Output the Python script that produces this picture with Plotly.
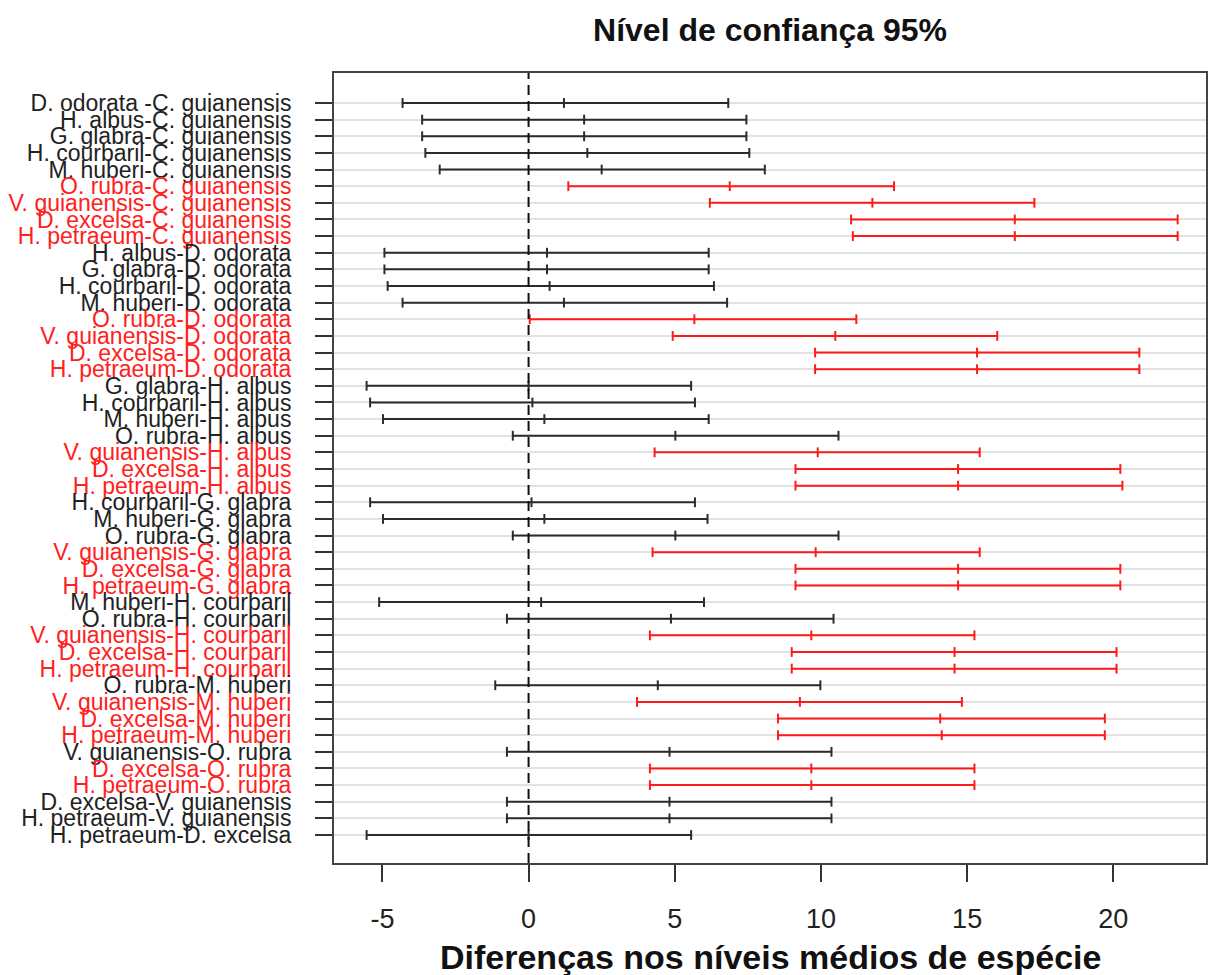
import plotly.graph_objects as go

comparisons = [
    "D. odorata -C. guianensis", "H. albus-C. guianensis", "G. glabra-C. guianensis",
    "H. courbaril-C. guianensis", "M. huberi-C. guianensis", "O. rubra-C. guianensis",
    "V. guianensis-C. guianensis", "D. excelsa-C. guianensis", "H. petraeum-C. guianensis",
    "H. albus-D. odorata", "G. glabra-D. odorata", "H. courbaril-D. odorata",
    "M. huberi-D. odorata", "O. rubra-D. odorata", "V. guianensis-D. odorata",
    "D. excelsa-D. odorata", "H. petraeum-D. odorata", "G. glabra-H. albus",
    "H. courbaril-H. albus", "M. huberi-H. albus", "O. rubra-H. albus",
    "V. guianensis-H. albus", "D. excelsa-H. albus", "H. petraeum-H. albus",
    "H. courbaril-G. glabra", "M. huberi-G. glabra", "O. rubra-G. glabra",
    "V. guianensis-G. glabra", "D. excelsa-G. glabra", "H. petraeum-G. glabra",
    "M. huberi-H. courbaril", "O. rubra-H. courbaril", "V. guianensis-H. courbaril",
    "D. excelsa-H. courbaril", "H. petraeum-H. courbaril", "O. rubra-M. huberi",
    "V. guianensis-M. huberi", "D. excelsa-M. huberi", "H. petraeum-M. huberi",
    "V. guianensis-O. rubra", "D. excelsa-O. rubra", "H. petraeum-O. rubra",
    "D. excelsa-V. guianensis", "H. petraeum-V. guianensis", "H. petraeum-D. excelsa",
]

diff = [1.21, 1.90, 1.90, 2.01, 2.50, 6.88, 11.76, 16.63, 16.63,
        0.63, 0.63, 0.72, 1.21, 5.67, 10.49, 15.34, 15.34,
        0.00, 0.13, 0.54, 5.02, 9.89, 14.69, 14.69,
        0.10, 0.54, 5.02, 9.82, 14.69, 14.69,
        0.43, 4.87, 9.67, 14.57, 14.57,
        4.42, 9.28, 14.08, 14.13,
        4.82, 9.67, 9.67,
        4.82, 4.82, 0.00]

lwr = [-4.31, -3.64, -3.64, -3.53, -3.04, 1.36, 6.20, 11.03, 11.09,
       -4.93, -4.93, -4.82, -4.31, 0.04, 4.93, 9.80, 9.80,
       -5.54, -5.42, -4.98, -0.54, 4.31, 9.13, 9.13,
       -5.42, -4.98, -0.54, 4.24, 9.13, 9.13,
       -5.11, -0.74, 4.15, 9.00, 9.00,
       -1.14, 3.71, 8.53, 8.53,
       -0.74, 4.15, 4.15,
       -0.74, -0.74, -5.54]

upr = [6.83, 7.45, 7.45, 7.55, 8.08, 12.50, 17.30, 22.20, 22.20,
       6.16, 6.16, 6.34, 6.79, 11.21, 16.03, 20.89, 20.89,
       5.56, 5.69, 6.16, 10.60, 15.43, 20.24, 20.31,
       5.69, 6.12, 10.60, 15.43, 20.24, 20.24,
       6.00, 10.43, 15.25, 20.11, 20.11,
       9.98, 14.82, 19.71, 19.71,
       10.36, 15.25, 15.25,
       10.36, 10.36, 5.56]

x_ticks = [-5, 0, 5, 10, 15, 20]

rows = list(range(1, len(comparisons) + 1))
sig = [l > 0 for l in lwr]

FONT = "Liberation Sans, Arial, sans-serif"
BLACK = "#2b2b2b"
RED = "#ff1a1a"

fig = go.Figure()
for r, lo, d, hi, s in zip(rows, lwr, diff, upr, sig):
    col = RED if s else BLACK
    fig.add_trace(go.Scatter(
        x=[lo, d, hi], y=[r, r, r], mode="lines+markers",
        line=dict(color=col, width=2),
        marker=dict(symbol="line-ns", size=7, line=dict(color=col, width=2)),
        showlegend=False, hoverinfo="x+y",
    ))

fig.add_vline(x=0, line=dict(color="#111111", width=2, dash="10px,6px"), layer="above")

ticktext = [
    (f'<span style="color:#ff2020">{c}</span>' if s else c)
    for c, s in zip(comparisons, sig)
]

fig.update_layout(
    width=1211, height=975,
    margin=dict(l=334, r=3, t=73, b=112),
    paper_bgcolor="white", plot_bgcolor="white",
    font=dict(family=FONT, color="#222222"),
    title=dict(text="<b>Nível de confiança 95%</b>", x=0.5, xref="paper",
               y=1 - 30 / 975, yref="container", yanchor="middle",
               font=dict(size=32, color="#111111", family=FONT)),
    xaxis=dict(
        range=[-6.655, 23.17], tickmode="array", tickvals=x_ticks,
        ticktext=[str(v) for v in x_ticks],
        ticks="outside", ticklen=17, tickwidth=2, tickcolor="#333333",
        tickfont=dict(size=27, color="#222222"), ticklabelstandoff=14,
        showgrid=False, zeroline=False,
        showline=True, mirror=True, linecolor="#444444", linewidth=2,
    ),
    yaxis=dict(
        range=[46.683, -0.803], tickmode="array", tickvals=rows, ticktext=ticktext,
        ticks="outside", ticklen=17, tickwidth=2, tickcolor="#333333",
        tickfont=dict(size=23, color="#222222"), ticklabelstandoff=19,
        showgrid=True, gridcolor="#e2e2e2", gridwidth=2, zeroline=False,
        showline=True, mirror=True, linecolor="#444444", linewidth=2,
    ),
    annotations=[dict(
        text="<b>Diferenças nos níveis médios de espécie</b>",
        xref="paper", yref="paper", x=0.5, y=-(957 - 863) / 790,
        xanchor="center", yanchor="middle", showarrow=False,
        font=dict(size=34, color="#111111", family=FONT),
    )],
)

fig.write_html("out.html")
